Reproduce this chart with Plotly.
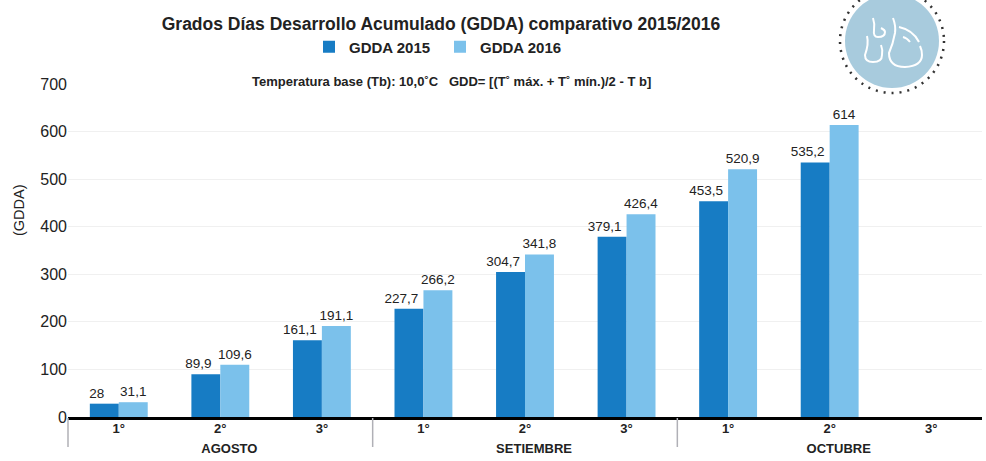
import plotly.graph_objects as go

PAD = "\u00a0" * 5
months = [f"<b>{PAD}AGOSTO</b>"]*3 + [f"<b>{PAD}SETIEMBRE</b>"]*3 + [f"<b>{PAD}OCTUBRE</b>"]*3
decades = ["<b>1°</b>", "<b>2°</b>", "<b>3°</b>"]*3
gdda_2015 = [28, 89.9, 161.1, 227.7, 304.7, 379.1, 453.5, 535.2, None]
gdda_2016 = [31.1, 109.6, 191.1, 266.2, 341.8, 426.4, 520.9, 614, None]
FONT = "Liberation Sans, Arial, sans-serif"
W, H = 986, 461
L, R, T, B = 68, 982, 84, 417
def fx(p): return (p - L) / (R - L)
def fy(p): return (B - p) / (B - T)

def lab(vals, right_pad=0):
    return ["" if v is None else str(v).replace(".", ",") + "\u00a0" * right_pad for v in vals]

fig = go.Figure()
fig.add_bar(name="<b>GDDA 2015</b>", x=[months, decades], y=gdda_2015, marker=dict(color="#177cc4", line=dict(width=0)),
            text=lab(gdda_2015, 4), textposition="outside", cliponaxis=False, constraintext="none",
            textfont=dict(size=13.5, color="#222"))
fig.add_bar(name="<b>GDDA 2016</b>", x=[months, decades], y=gdda_2016, marker=dict(color="#7bc1eb", line=dict(width=0)),
            text=lab(gdda_2016), textposition="outside", cliponaxis=False, constraintext="none",
            textfont=dict(size=13.5, color="#222"))

shapes = [dict(type="circle", xref="paper", yref="paper",
               x0=fx(845), x1=fx(939), y0=fy(-6), y1=fy(88),
               fillcolor="#a8cbdd", line=dict(width=0), layer="below"),
          dict(type="circle", xref="paper", yref="paper",
               x0=fx(840), x1=fx(944), y0=fy(-11), y1=fy(93),
               line=dict(color="#333", width=2.5, dash="2px,6px"), layer="below")]

for frac in (0, 1/3, 2/3):
    shapes.append(dict(type="line", xref="paper", yref="paper", x0=frac, x1=frac,
                       y0=fy(418), y1=fy(447), line=dict(color="#b0b0b6", width=1.5)))

def qpath(start, segs):
    s = f"M{fx(start[0]):.5f},{fy(start[1]):.5f} "
    for cx, cy, x, y in segs:
        s += f"Q{fx(cx):.5f},{fy(cy):.5f} {fx(x):.5f},{fy(y):.5f} "
    return s

white = dict(color="white", width=2)
drops = [
    qpath((873, 18), [(875, 24, 874, 30), (873, 37, 878, 37), (885, 37, 885, 32), (885, 30, 881, 28)]),
    qpath((867, 36), [(869, 44, 865, 55), (865, 62, 873, 62), (882, 62, 882, 55), (883, 50, 881, 45)]),
    qpath((893, 18), [(896, 26, 895, 33), (893, 44, 889, 53), (889, 67, 905, 67), (922, 66, 922, 55), (922, 50, 920, 46)]),
    qpath((899, 27), [(913, 30, 919, 42)]),
    qpath((903, 37), [(907, 38, 910, 42)]),
]
for d in drops:
    shapes.append(dict(type="path", xref="paper", yref="paper", path=d, line=white))

fig.update_layout(
    width=W, height=H, autosize=False, barmode="group", bargap=0.43, bargroupgap=0,
    plot_bgcolor="white", paper_bgcolor="white",
    margin=dict(l=L, r=W-R, t=T, b=H-B, autoexpand=False),
    font=dict(family=FONT, color="#222", size=15),
    title=dict(text="<b>Grados Días Desarrollo Acumulado (GDDA) comparativo 2015/2016</b>",
               x=441/W, xanchor="center", y=1-24/H, yanchor="middle",
               font=dict(size=17.5, color="#222", family=FONT)),
    legend=dict(orientation="h", x=fx(309), xanchor="left", y=fy(47), yanchor="middle",
                font=dict(size=15, color="#222"), itemwidth=30, entrywidth=86, entrywidthmode="pixels",
                bgcolor="rgba(0,0,0,0)", traceorder="normal"),
    shapes=shapes,
    annotations=[dict(text="<b>Temperatura base (Tb): 10,0˚C   GDD= [(T˚ máx. + T˚ mín.)/2 - T b]</b>",
                      xref="paper", yref="paper", x=fx(451), y=fy(81), xanchor="center",
                      yanchor="middle", showarrow=False, font=dict(size=13, color="#222")),
                 dict(text="(GDDA)", xref="paper", yref="paper", x=fx(19), y=fy(210), textangle=-90,
                      xanchor="center", yanchor="middle", showarrow=False,
                      font=dict(size=14.5, color="#222")),
                 ],
    xaxis=dict(type="multicategory", showline=True, linecolor="black", linewidth=3,
               ticks="", showdividers=False, automargin=False, ticklabelstandoff=-3,
               tickfont=dict(size=13, color="#222"),
               showgrid=False, zeroline=False),
    yaxis=dict(range=[0, 700], dtick=100, gridcolor="#f0f0f0", gridwidth=1, zeroline=False,
               automargin=False, tickfont=dict(size=16, color="#222"), ticks=""),
)
fig.write_html("out.html", config=dict(displayModeBar=False), post_script="document.body.style.margin='0';")
